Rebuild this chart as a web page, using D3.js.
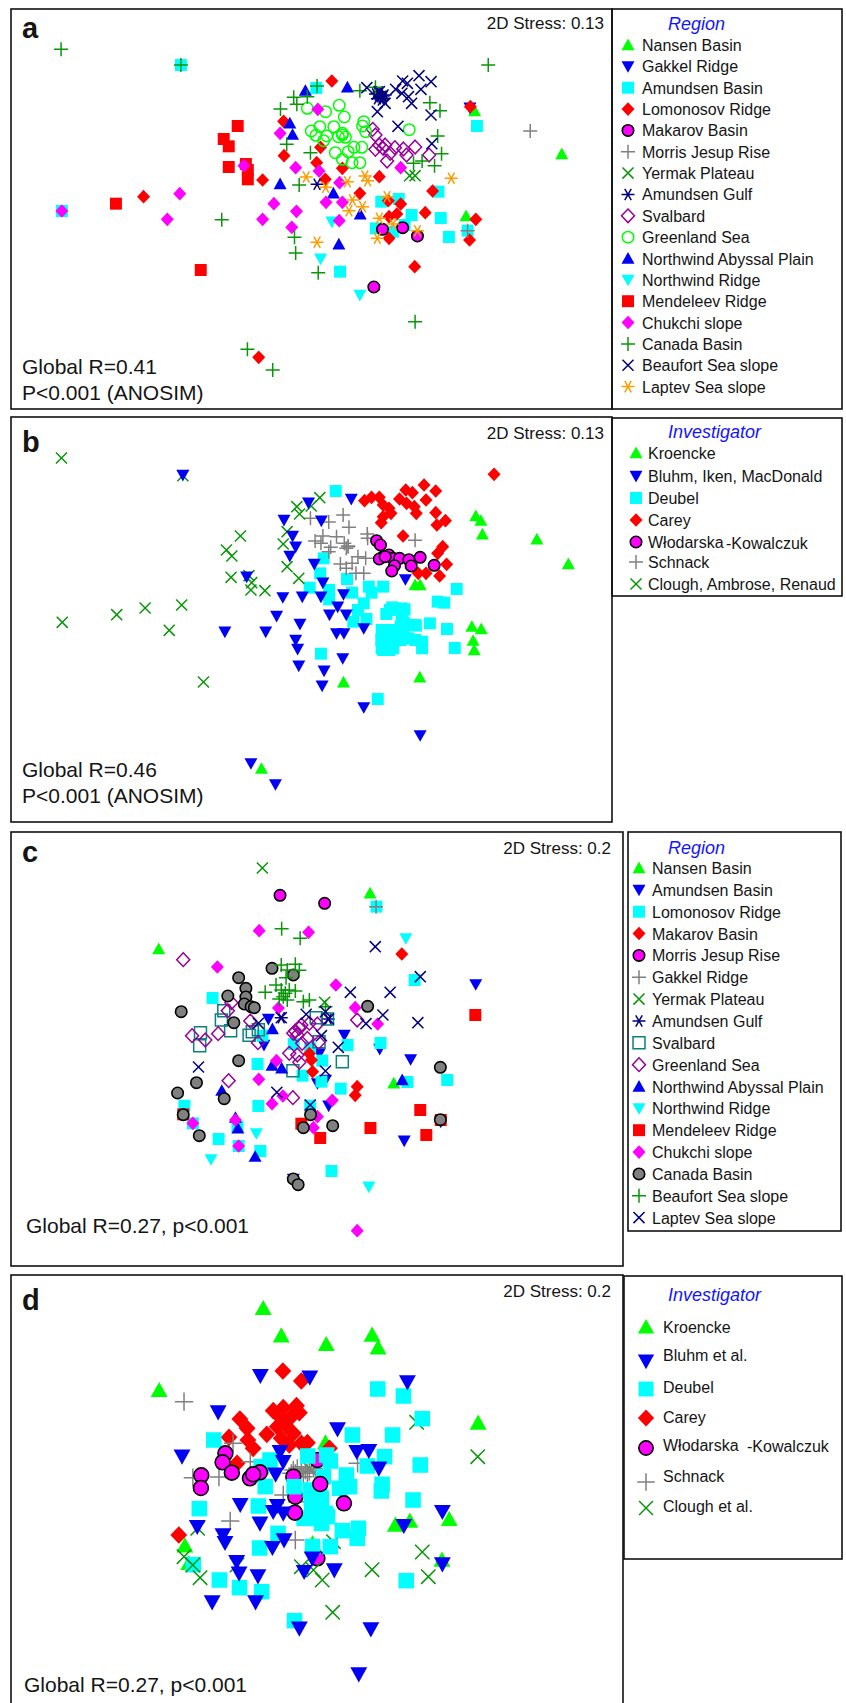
<!DOCTYPE html>
<html>
<head>
<meta charset="utf-8">
<script src="https://cdn.jsdelivr.net/npm/d3@7"></script>
<style>
html, body { margin: 0; padding: 0; background: #fff; }
svg { display: block; }
text { font-family: "Liberation Sans", Arial, sans-serif; fill: #151515; }
</style>
</head>
<body>
<div id="chart"></div>
<script>
// ordination points, in picture units of each panel ([x, y])

// panel a, by region
var aNansen = [[1220,333],[1444,462],[1198,648]];
var aGakkel = [[1208,323]];
var aAmundsen = [[465,195],[813,264],[1226,378],[159,633],[1127,575],[980,605],[1025,597],[1058,645],[1133,654],[966,685],[1010,695],[1040,675],[1154,711],[1202,692],[874,815]];
var aLomonosov = [[853,243],[1209,320],[729,364],[824,442],[730,467],[814,488],[880,505],[836,538],[975,530],[675,540],[925,580],[1112,573],[369,590],[998,602],[1030,612],[1020,642],[1000,650],[1093,638],[1223,658],[1000,715],[1207,720],[1066,800],[665,1072]];
var aMakarov = [[983,688],[1035,683],[1073,708],[961,861]];
var aMorris = [[1363,393],[1202,692]];
var aYermak = [[1053,527],[1067,527]];
var aGulf = [[977,290],[985,295],[970,280],[965,282],[975,285],[985,288],[970,296],[980,300],[990,285],[975,275],[815,553]];
var aSvalbard = [[958,388],[965,405],[965,448],[975,435],[990,435],[1015,443],[1037,447],[1067,441],[1045,465],[1003,460],[995,483],[1103,465],[985,445]];
var aGreenland = [[790,325],[837,335],[872,316],[885,351],[800,393],[822,380],[858,380],[812,406],[840,408],[832,422],[880,400],[870,410],[888,412],[935,365],[932,378],[940,395],[1052,389],[930,442],[910,442],[895,455],[862,458],[880,478],[905,488],[925,488],[880,405]];
var aAbyssal = [[785,272],[893,262],[745,370],[752,404],[720,552],[857,580],[926,643],[871,733]];
var aNorthwind = [[853,665],[824,776],[925,885]];
var aMendeleev = [[611,378],[575,417],[588,439],[588,501],[632,492],[637,510],[637,538],[298,611],[516,810]];
var aChukchi = [[817,328],[720,400],[627,497],[760,503],[820,513],[1030,503],[873,548],[462,581],[704,611],[838,607],[880,607],[762,634],[430,658],[675,658],[872,662],[750,682],[159,633]];
var aCanada = [[157,148],[465,195],[1255,195],[815,258],[755,292],[790,290],[763,313],[721,327],[965,262],[925,272],[1105,308],[1131,332],[737,433],[798,458],[1125,408],[1135,461],[1085,483],[1063,490],[1117,497],[769,555],[570,659],[757,712],[760,759],[818,818],[1067,965],[636,1048],[701,1110]];
var aBeaufort = [[943,263],[1035,243],[1077,227],[1108,245],[1047,250],[1017,268],[1082,268],[1033,280],[1050,290],[1058,310],[975,275],[990,310],[970,335],[1108,345],[1023,379],[1110,431]];
var aLaptev = [[787,531],[837,562],[893,545],[938,528],[945,542],[1160,535],[995,590],[906,600],[932,620],[897,632],[975,655],[1010,672],[1073,692],[970,715],[815,727]];

// panel b, by investigator
var bKroencke = [[1223,318],[1236,332],[1240,373],[1380,388],[1461,462],[1067,525],[1080,525],[1213,650],[1237,657],[1216,692],[1219,720],[1079,802],[883,817],[672,1076]];
var bBluhm = [[470,195],[793,278],[903,267],[730,330],[826,332],[752,378],[760,410],[745,438],[808,462],[634,500],[830,518],[1042,508],[727,562],[777,560],[825,560],[883,553],[868,590],[711,618],[847,614],[890,614],[771,642],[578,665],[683,665],[865,670],[884,670],[935,655],[760,690],[765,717],[881,745],[768,767],[833,782],[828,827],[935,892],[1080,976],[645,1060],[708,1123]];
var bDeubel = [[863,243],[832,445],[823,490],[892,507],[796,533],[948,530],[985,530],[846,540],[846,568],[905,548],[955,548],[1174,537],[1125,575],[1142,578],[935,580],[920,600],[1008,592],[1040,598],[993,612],[1035,620],[942,627],[908,635],[1105,640],[1069,647],[1149,657],[990,660],[1030,650],[980,690],[1005,690],[1015,670],[1050,685],[1085,695],[1085,715],[1000,720],[985,720],[1169,714],[825,731],[971,867],[1040,640],[1010,700],[1030,690],[981,660],[981,715],[1011,660],[1011,715],[1037,655],[1067,645],[1067,690],[1002,600],[1032,615],[1032,595]];
var bCarey = [[1270,193],[1090,225],[1120,243],[1043,240],[1060,248],[955,262],[937,272],[975,262],[1027,267],[1045,280],[1095,270],[1065,290],[985,285],[1000,295],[1070,310],[1120,308],[1005,310],[985,320],[980,338],[1145,332],[1123,345],[1036,378],[1138,410],[1125,430],[1148,463],[1075,490],[1095,490],[1130,498]];
var bWlodarska = [[968,392],[978,405],[985,440],[975,447],[1000,435],[1010,445],[1027,445],[1051,449],[1080,442],[1057,468],[1116,466],[1014,467],[1007,483],[990,440]];
var bSchnack = [[882,315],[798,325],[845,336],[897,352],[944,372],[830,378],[865,380],[810,393],[825,400],[945,385],[1067,391],[885,400],[895,408],[850,412],[845,425],[890,415],[920,440],[940,445],[905,460],[875,462],[890,475],[915,490],[935,490],[895,410]];
var bClough = [[158,144],[470,197],[822,263],[763,290],[800,288],[770,312],[738,365],[618,378],[728,402],[582,420],[596,438],[738,470],[594,502],[768,505],[640,497],[647,518],[645,540],[681,542],[467,585],[373,594],[300,614],[160,637],[435,661],[523,816]];

// panel c, by region
var cNansen = [[395,372],[921,205],[980,775]];
var cAmundsen = [[1184,478],[668,582],[857,630],[657,660],[945,672],[1022,703],[790,775],[810,765],[795,685],[818,842],[1006,947],[730,1062],[1097,890]];
var cLomonosov = [[529,519],[937,245],[1032,465],[653,632],[731,657],[772,668],[865,660],[947,654],[641,717],[802,707],[753,752],[1014,771],[1113,765],[848,791],[459,842],[643,843],[772,842],[480,895],[591,905],[544,942],[594,963],[648,978],[825,1038],[800,770]];
var cMakarov = [[1000,387],[770,686],[775,705],[778,740],[889,785],[884,811]];
var cMorris = [[697,211],[808,235]];
var cGakkel = [[936,245]];
var cYermak = [[653,129],[808,532]];
var cGulf = [[700,578],[817,582]];
var cSvalbard = [[557,557],[551,585],[574,617],[499,623],[497,662],[620,631],[628,620],[643,614],[787,578],[794,650],[852,710],[729,737],[815,582]];
var cGreenland = [[456,404],[576,533],[567,557],[623,588],[478,632],[511,645],[543,626],[642,653],[735,618],[745,610],[730,625],[740,630],[765,640],[770,595],[790,597],[750,600],[793,652],[720,685],[740,690],[752,655],[745,712],[569,767],[729,818],[889,585]];
var cAbyssal = [[678,612],[677,722],[701,730],[1001,765],[552,797],[586,878],[592,910],[635,995]];
var cNorthwind = [[1010,340],[638,925],[525,1003],[918,1085]];
var cMendeleev = [[1183,570],[1046,855],[922,909],[1061,930],[797,939],[750,896],[456,868],[1097,885]];
var cChukchi = [[645,317],[768,322],[541,426],[836,480],[693,549],[884,548],[940,597],[688,707],[644,763],[704,813],[677,836],[827,826],[790,875],[780,908],[586,885],[480,895],[594,963],[889,1217]];
var cCanada = [[677,430],[730,450],[594,458],[612,490],[567,513],[612,516],[608,537],[625,545],[633,548],[451,560],[582,593],[915,544],[594,707],[1096,727],[489,773],[442,804],[558,821],[456,869],[773,869],[828,902],[755,908],[496,932],[1096,884],[730,1062],[742,1079]];
var cBeaufort = [[701,311],[747,340],[700,420],[735,418],[715,435],[745,436],[712,458],[687,480],[660,502],[700,495],[720,495],[735,498],[705,515],[695,522],[715,525],[755,530],[770,525],[810,545],[710,505]];
var cLaptev = [[934,365],[1046,455],[872,502],[971,502],[643,595],[762,568],[810,560],[953,570],[911,596],[1040,593],[800,632],[842,667],[494,726],[810,738],[689,802],[772,840],[818,582],[700,578]];

// panel d, by investigator (the Back arrays lie under the Deubel squares)
var dKroencke = [[655,130],[700,212],[812,238],[926,210],[941,248],[396,376],[1190,474],[810,533],[1118,763],[984,780],[1020,768],[460,842],[1100,885],[778,835],[470,895]];
var dBluhm = [[648,332],[771,337],[1014,351],[543,441],[840,492],[453,574],[697,560],[705,590],[888,560],[918,557],[943,610],[686,628],[598,719],[690,722],[680,740],[705,745],[1101,740],[491,785],[647,775],[1005,782],[555,810],[560,833],[707,825],[678,848],[777,880],[589,890],[595,925],[757,920],[832,915],[642,933],[528,1011],[636,1011],[745,1090],[923,1092],[1101,897],[893,1227]];
var dDeubel = [[940,372],[1004,393],[1051,461],[532,525],[877,510],[977,510],[766,573],[813,570],[822,588],[957,575],[914,603],[1046,600],[672,585],[650,605],[660,665],[732,665],[805,635],[862,630],[845,670],[870,665],[951,658],[949,678],[1028,705],[496,731],[643,723],[775,700],[800,700],[790,725],[810,745],[757,760],[800,775],[815,755],[852,797],[892,790],[889,820],[692,805],[646,849],[778,845],[822,845],[481,899],[546,945],[596,968],[651,980],[1011,947],[733,1067],[772,675],[776,715],[796,690],[785,740],[775,760]];
var dCarey = [[704,318],[750,348],[597,462],[680,437],[705,428],[738,422],[745,443],[725,455],[615,490],[664,508],[690,485],[710,480],[730,505],[700,520],[570,517],[617,525],[630,550],[765,533],[750,535],[820,550],[445,810],[590,595],[720,540],[700,460]];
var dWlodarska = [[561,565],[554,592],[577,623],[622,640],[647,622],[630,628],[501,631],[500,669],[797,657],[856,715],[734,743]];
var dWlodarskaBack = [[735,695],[790,585],[790,880],[730,635]];
var dSchnack = [[458,410],[580,535],[623,590],[480,638],[545,636],[573,768],[890,595],[735,825],[705,690],[740,710],[730,615],[740,610],[750,605],[760,615],[770,620],[780,610],[725,625],[745,635],[765,625],[755,635],[735,625],[785,625]];
var dClough = [[1189,575],[1051,861],[926,914],[1066,935],[828,1042],[802,945],[780,915],[750,905],[458,875],[480,900],[498,938],[590,900]];
var dCloughBack = [[1037,472],[830,830],[492,790],[770,610]];

// colours
var green = "#00ff00", blue = "#0000f5", cyan = "#00ffff", red = "#ff0000", magenta = "#ff00ff",
    grey = "#808080", dkgreen = "#0a960a", navy = "#000080", purple = "#990099", teal = "#0a8080",
    orange = "#ff9c00";

// one marker style per group
var styles = {
    upG: {shape: "up", fill: green}, down: {shape: "down", fill: blue}, sqC: {shape: "square", fill: cyan},
    diaR: {shape: "diamond", fill: red}, disc: {shape: "circle", fill: magenta, stroke: "#000"},
    plusGrey: {shape: "plus", stroke: grey}, xG: {shape: "cross", stroke: dkgreen},
    starN: {shape: "star", stroke: navy}, openDia: {shape: "diamond", stroke: purple},
    openCirc: {shape: "circle", stroke: green}, openSq: {shape: "square", stroke: teal},
    upB: {shape: "up", fill: blue}, downC: {shape: "down", fill: cyan}, sqR: {shape: "square", fill: red},
    diaM: {shape: "diamond", fill: magenta}, plusG: {shape: "plus", stroke: dkgreen},
    discGrey: {shape: "circle", fill: grey, stroke: "#000"}, xN: {shape: "cross", stroke: navy},
    starO: {shape: "star", stroke: orange}
};

var panels = [
    {
        letter: "a", stress: "2D Stress: 0.13", notes: ["Global R=0.41", "P<0.001 (ANOSIM)"],
        frame: [11, 9, 612, 409], letterY: 38, stressX: 604, stressY: 29, noteX: 22, noteY: [374, 400],
        xScale: d3.scaleLinear().domain([0, 1568]).range([0, 610]),
        yScale: d3.scaleLinear().domain([0, 1260]).range([0, 420]),
        size: 1, title: "Region", legend: {frame: [612, 9, 842, 409], markX: 628, textX: 642, titleX: 668, titleY: 30, rows: d3.range(17).map(function(i){ return 45 + i * 21.35; })},
        groups: [
            ["Nansen Basin", aNansen, "upG"], ["Gakkel Ridge", aGakkel, "down"], ["Amundsen Basin", aAmundsen, "sqC"],
            ["Lomonosov Ridge", aLomonosov, "diaR"], ["Makarov Basin", aMakarov, "disc"], ["Morris Jesup Rise", aMorris, "plusGrey"],
            ["Yermak Plateau", aYermak, "xG"], ["Amundsen Gulf", aGulf, "starN"], ["Svalbard", aSvalbard, "openDia"],
            ["Greenland Sea", aGreenland, "openCirc"], ["Northwind Abyssal Plain", aAbyssal, "upB"], ["Northwind Ridge", aNorthwind, "downC"],
            ["Mendeleev Ridge", aMendeleev, "sqR"], ["Chukchi slope", aChukchi, "diaM"], ["Canada Basin", aCanada, "plusG"],
            ["Beaufort Sea slope", aBeaufort, "xN"], ["Laptev Sea slope", aLaptev, "starO"]
        ]
    },
    {
        letter: "b", stress: "2D Stress: 0.13", notes: ["Global R=0.46", "P<0.001 (ANOSIM)"],
        frame: [11, 417, 612, 822], letterY: 452, stressX: 604, stressY: 439, noteX: 22, noteY: [777, 803],
        xScale: d3.scaleLinear().domain([0, 1568]).range([0, 610]),
        yScale: d3.scaleLinear().domain([0, 1260]).range([410, 830]),
        size: 1, title: "Investigator", legend: {frame: [612, 418, 842, 596], markX: 636, textX: 648, titleX: 668, titleY: 438, rows: [453, 476, 498, 520, 542, 562, 584]},
        order: [0, 3, 2, 5, 6, 1, 4],
        groups: [
            ["Kroencke", bKroencke, "upG"], ["Bluhm, Iken, MacDonald", bBluhm, "down"], ["Deubel", bDeubel, "sqC"],
            ["Carey", bCarey, "diaR"], ["Włodarska", bWlodarska, "disc", "-Kowalczuk", 726], ["Schnack", bSchnack, "plusGrey"],
            ["Clough, Ambrose, Renaud", bClough, "xG"]
        ]
    },
    {
        letter: "c", stress: "2D Stress: 0.2", notes: ["Global R=0.27, p<0.001"],
        frame: [11, 832, 623, 1266], letterY: 862, stressX: 611, stressY: 854, noteX: 26, noteY: [1233],
        xScale: d3.scaleLinear().domain([0, 1568]).range([0, 630]),
        yScale: d3.scaleLinear().domain([0, 1350]).range([825, 1275]),
        size: 1, title: "Region", legend: {frame: [628, 832, 841, 1231], markX: 639, textX: 652, titleX: 668, titleY: 854, rows: d3.range(17).map(function(i){ return 868 + i * 21.85; })},
        groups: [
            ["Nansen Basin", cNansen, "upG"], ["Amundsen Basin", cAmundsen, "down"], ["Lomonosov Ridge", cLomonosov, "sqC"],
            ["Makarov Basin", cMakarov, "diaR"], ["Morris Jesup Rise", cMorris, "disc"], ["Gakkel Ridge", cGakkel, "plusGrey"],
            ["Yermak Plateau", cYermak, "xG"], ["Amundsen Gulf", cGulf, "starN"], ["Svalbard", cSvalbard, "openSq"],
            ["Greenland Sea", cGreenland, "openDia"], ["Northwind Abyssal Plain", cAbyssal, "upB"], ["Northwind Ridge", cNorthwind, "downC"],
            ["Mendeleev Ridge", cMendeleev, "sqR"], ["Chukchi slope", cChukchi, "diaM"], ["Canada Basin", cCanada, "discGrey"],
            ["Beaufort Sea slope", cBeaufort, "plusG"], ["Laptev Sea slope", cLaptev, "xN"]
        ]
    },
    {
        letter: "d", stress: "2D Stress: 0.2", notes: ["Global R=0.27, p<0.001"],
        frame: [11, 1275, 623, 1720], letterY: 1310, stressX: 611, stressY: 1297, noteX: 24, noteY: [1692],
        xScale: d3.scaleLinear().domain([0, 1568]).range([0, 630]),
        yScale: d3.scaleLinear().domain([0, 1314]).range([1265, 1703]),
        size: 1.3, title: "Investigator", legend: {frame: [624, 1276, 842, 1559], markX: 646, textX: 663, titleX: 668, titleY: 1301, markScale: 1.25,
            rows: [1327, 1361, 1389, 1418, 1448, 1482, 1508], textRows: [1333, 1361, 1393, 1423, 1451, 1482, 1512]},
        order: [0, 3, 8, 5, 7, 2, 6, 4, 1],
        groups: [
            ["Kroencke", dKroencke, "upG"], ["Bluhm et al.", dBluhm, "down"], ["Deubel", dDeubel, "sqC"],
            ["Carey", dCarey, "diaR"], ["Włodarska", dWlodarska, "disc", "-Kowalczuk", 747], ["Schnack", dSchnack, "plusGrey"],
            ["Clough et al.", dClough, "xG"], [null, dWlodarskaBack, "disc"], [null, dCloughBack, "xG"]
        ]
    }
];

var svg = d3.select("#chart").append("svg")
    .attr("width", 846)
    .attr("height", 1703);

// marker outlines, k scales them up for panel d
function markerPath(shape, k) {
    var r = 6.5 * k, p = d3.path();
    if (shape == "up" || shape == "down") {
        var s = shape == "up" ? 1 : -1;
        p.moveTo(0, -s * r);
        p.lineTo(r * 1.0, s * r * 0.8);
        p.lineTo(-r * 1.0, s * r * 0.8);
        p.closePath();
    } else if (shape == "square") {
        p.rect(-r * 0.92, -r * 0.92, r * 1.84, r * 1.84);
    } else if (shape == "diamond") {
        p.moveTo(0, -r * 1.05); p.lineTo(r * 1.0, 0); p.lineTo(0, r * 1.05); p.lineTo(-r * 1.0, 0);
        p.closePath();
    } else if (shape == "circle") {
        p.arc(0, 0, r * 0.88, 0, 2 * Math.PI);
    } else if (shape == "plus") {
        p.moveTo(-r * 1.08, 0); p.lineTo(r * 1.08, 0); p.moveTo(0, -r * 1.08); p.lineTo(0, r * 1.08);
    } else if (shape == "cross") {
        p.moveTo(-r * 0.85, -r * 0.85); p.lineTo(r * 0.85, r * 0.85); p.moveTo(r * 0.85, -r * 0.85); p.lineTo(-r * 0.85, r * 0.85);
    } else if (shape == "star") {
        var a = r * 1.0;
        p.moveTo(-a, 0); p.lineTo(a, 0);
        p.moveTo(-a * 0.5, -a * 0.87); p.lineTo(a * 0.5, a * 0.87);
        p.moveTo(a * 0.5, -a * 0.87); p.lineTo(-a * 0.5, a * 0.87);
    }
    return p.toString();
}

function styleMarks(sel, st, k) {
    sel.attr("d", markerPath(st.shape, k))
        .attr("fill", st.fill || "none")
        .attr("stroke", st.stroke || "none")
        .attr("stroke-width", st.fill ? 1.6 : 1.5);
}

function box(f) {
    svg.append("rect")
        .attr("x", f[0]).attr("y", f[1])
        .attr("width", f[2] - f[0]).attr("height", f[3] - f[1])
        .attr("fill", "none").attr("stroke", "#111").attr("stroke-width", 1.6);
}

panels.forEach(function(panel) {
    box(panel.frame);
    box(panel.legend.frame);

    svg.append("text").attr("x", 22).attr("y", panel.letterY)
        .attr("font-size", 29).attr("font-weight", "bold").text(panel.letter);
    svg.append("text").attr("x", panel.stressX).attr("y", panel.stressY)
        .attr("text-anchor", "end").attr("font-size", 17).text(panel.stress);
    panel.notes.forEach(function(note, i) {
        svg.append("text").attr("x", panel.noteX).attr("y", panel.noteY[i])
            .attr("font-size", 21).text(note);
    });

    // points
    var order = panel.order || d3.range(panel.groups.length);
    order.forEach(function(gi) {
        var group = panel.groups[gi];
        svg.append("g").selectAll("path")
            .data(group[1])
            .enter().append("path")
            .attr("transform", function(d) {
                return "translate(" + panel.xScale(d[0]) + "," + panel.yScale(d[1]) + ")";
            })
            .call(styleMarks, styles[group[2]], panel.size);
    });

    // legend
    var lg = panel.legend;
    svg.append("text").attr("x", lg.titleX).attr("y", lg.titleY)
        .attr("font-size", 18).attr("font-style", "italic").style("fill", "#1414ff").text(panel.title);
    panel.groups.forEach(function(group, i) {
        if (!group[0]) return;
        svg.append("path")
            .attr("transform", "translate(" + lg.markX + "," + lg.rows[i] + ")")
            .call(styleMarks, styles[group[2]], lg.markScale || 1);
        var ty = lg.textRows ? lg.textRows[i] : lg.rows[i] + 6;
        svg.append("text").attr("x", lg.textX).attr("y", ty).attr("font-size", 16).text(group[0]);
        if (group[3]) {
            svg.append("text").attr("x", group[4]).attr("y", ty + 1).attr("font-size", 16).text(group[3]);
        }
    });
});
</script>
</body>
</html>
